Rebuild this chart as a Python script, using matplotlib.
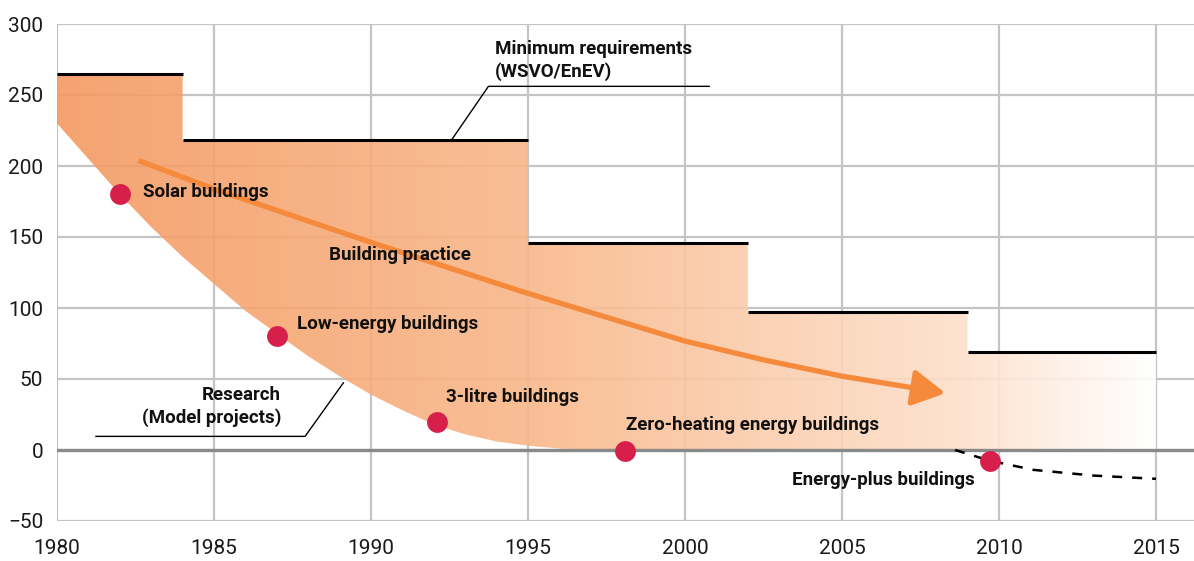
import numpy as np
import matplotlib
matplotlib.use("Agg")
import matplotlib.pyplot as plt
from matplotlib.path import Path
from matplotlib.patches import PathPatch, FancyArrowPatch
from matplotlib.colors import LinearSegmentedColormap

plt.rcParams['font.family'] = ['Roboto', 'DejaVu Sans']

# ---- data ----
# Minimum requirements (WSVO/EnEV): step start years, end years, levels
step_start = [1980, 1984, 1995, 2002, 2009]
step_end = [1984, 1995, 2002, 2009, 2015]
step_level = [265, 218, 146, 97, 69]

# Research (model projects) lower boundary curve
research_years = [1980, 1981, 1982, 1983, 1984, 1985, 1986, 1987, 1988, 1989,
                  1990, 1991, 1992, 1993, 1994, 1995, 1996, 1997, 1998]
research_values = [230, 205, 180, 157, 136, 117, 98, 82, 66, 52,
                   39, 28, 18, 11, 6, 3, 1, 0.3, 0]

# Milestone buildings
milestone_names = ["Solar buildings", "Low-energy buildings", "3-litre buildings",
                   "Zero-heating energy buildings", "Energy-plus buildings"]
milestone_years = [1982.0, 1987.0, 1992.1, 1998.1, 2009.7]
milestone_values = [180, 80, 20, -1, -8]

# Energy-plus trend (dashed)
plus_years = [2008.6, 2009.7, 2011.1, 2013.0, 2015.0]
plus_values = [0, -7.5, -14, -18, -20.3]

# Building-practice arrow path
practice_years = [1982.6, 1985.0, 1990.0, 1994.75, 1997.9, 2000.0, 2002.5, 2005.0, 2008.3]
practice_values = [203.8, 183.8, 146.2, 112, 90.8, 76.7, 63.5, 52, 40]

x_ticks = [1980, 1985, 1990, 1995, 2000, 2005, 2010, 2015]
y_ticks = [-50, 0, 50, 100, 150, 200, 250, 300]

# ---- figure ----
W, H = 1194, 561
fig = plt.figure(figsize=(W / 100, H / 100), dpi=100)
ax = fig.add_axes([57 / W, 1 - 521 / H, 1 - 57 / W, (521 - 24) / H])
ax.set_xlim(1980, 1980 + (W - 57) / 31.4)
ax.set_ylim(-50, 300)

for s in ax.spines.values():
    s.set_visible(False)
ax.set_xticks(x_ticks)
ax.set_yticks(y_ticks)
ax.tick_params(length=0, labelsize=15, colors='#1a1a1a')
ax.tick_params(axis='x', pad=13)
ax.tick_params(axis='y', pad=10)
ax.grid(True, color='#c4c4c4', lw=1.6, zorder=0)
ax.set_axisbelow(True)

# ---- gradient filled region ----
verts = []
for a, b, v in zip(step_start, step_end, step_level):
    verts.append((a, v))
    verts.append((b, v))
verts.append((step_end[-1], 0))
for yr, val in zip(research_years[::-1], research_values[::-1]):
    verts.append((yr, val))
verts.append(verts[0])
codes = [Path.MOVETO] + [Path.LINETO] * (len(verts) - 2) + [Path.CLOSEPOLY]
region = PathPatch(Path(verts, codes), facecolor='none', edgecolor='none',
                   transform=ax.transData)
ax.add_patch(region)

cmap = LinearSegmentedColormap.from_list(
    'grad', [(0.0, (0.957, 0.600, 0.380)),
             (0.43, (0.976, 0.720, 0.540)),
             (0.83, (0.992, 0.880, 0.800)),
             (1.0, (1.0, 1.0, 1.0))])
grad = np.linspace(0, 1, 512).reshape(1, -1)
im = ax.imshow(grad, cmap=cmap, extent=(step_start[0], step_end[-1], -1, 300),
               aspect='auto', origin='lower', zorder=1, alpha=0.9,
               interpolation='bilinear')
im.set_clip_path(region)

# zero line
ax.axhline(0, color='#8a8a8a', lw=2.4, zorder=2)

# step lines
for a, b, v in zip(step_start, step_end, step_level):
    ax.plot([a, b], [v, v], color='black', lw=2.2, solid_capstyle='butt', zorder=4)

# building practice arrow
arrow = FancyArrowPatch(path=Path(list(zip(practice_years, practice_values))),
                        arrowstyle='-|>,head_length=20,head_width=11',
                        color='#f58a3d', lw=3.8, zorder=5,
                        joinstyle='round', capstyle='butt')
arrow.set_transform(ax.transData)
ax.add_patch(arrow)

# energy-plus dashed trend
ax.plot(plus_years, plus_values, color='black', lw=1.8, ls=(0, (4, 4)), zorder=4)

# milestone dots
ax.plot(milestone_years, milestone_values, 'o', color='#d61f4a', ms=15,
        mec='none', zorder=6)

# labels
lab = dict(fontsize=13.5, fontweight='bold', color='#111111', zorder=7)
ax.text(1982.74, 182, milestone_names[0], ha='left', va='center', **lab)
ax.text(1987.64, 88.6, milestone_names[1], ha='left', va='center', **lab)
ax.text(1992.39, 37, milestone_names[2], ha='left', va='center', **lab)
ax.text(1998.12, 17.9, milestone_names[3], ha='left', va='center', **lab)
ax.text(2009.24, -21, milestone_names[4], ha='right', va='center', **lab)
ax.text(1988.66, 137.3, "Building practice", ha='left', va='center', **lab)
ax.text(1987.13, 30.5, "Research\n(Model projects)", ha='right', va='center',
        multialignment='right', linespacing=1.3, **lab)
ax.text(1993.95, 274.5, "Minimum requirements\n(WSVO/EnEV)", ha='left', va='center',
        multialignment='left', linespacing=1.3, **lab)

# leader lines
ax.plot([1992.57, 1993.74, 2000.77], [218.5, 256.1, 256.1], color='black', lw=1.0, zorder=4)
ax.plot([1981.24, 1987.9, 1989.12], [9.6, 9.6, 47.3], color='black', lw=1.0, zorder=4)

fig.savefig('out.png', dpi=100)
